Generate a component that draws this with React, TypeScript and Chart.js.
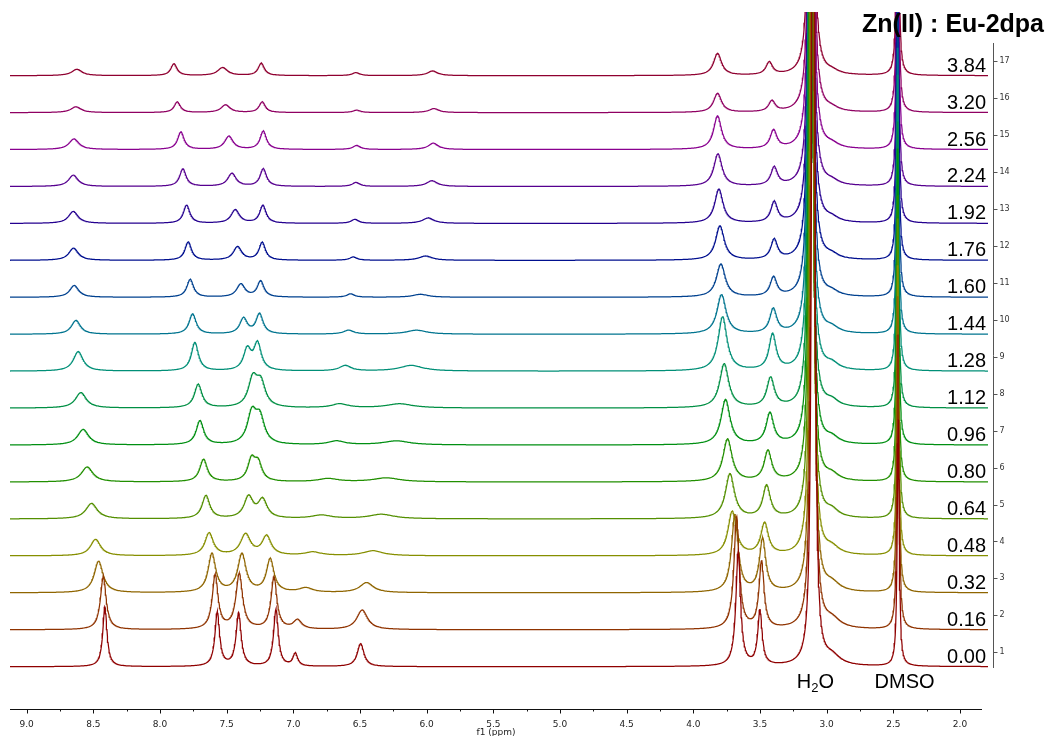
import React, { useEffect, useRef } from 'react';
import { Chart, registerables } from 'chart.js';

Chart.register(...registerables);

// ---------- data ----------
const CONC_LABELS = ['0.00', '0.16', '0.32', '0.48', '0.64', '0.80', '0.96', '1.12', '1.28', '1.44', '1.60', '1.76', '1.92', '2.24', '2.56', '3.20', '3.84'];
const TRACE_NUMBERS = [1, 2, 3, 4, 5, 6, 7, 8, 9, 10, 11, 12, 13, 14, 15, 16, 17];
const X_MAJOR_TICKS = [9.0, 8.5, 8.0, 7.5, 7.0, 6.5, 6.0, 5.5, 5.0, 4.5, 4.0, 3.5, 3.0, 2.5, 2.0];
const X_MAJOR_LABELS = ['9.0', '8.5', '8.0', '7.5', '7.0', '6.5', '6.0', '5.5', '5.0', '4.5', '4.0', '3.5', '3.0', '2.5', '2.0'];
const X_MINOR_TICKS = [8.75, 8.25, 7.75, 7.25, 6.75, 6.25, 5.75, 5.25, 4.75, 4.25, 3.75, 3.25, 2.75, 2.25];

// peak A (~8.4-8.65 ppm)
const A_PPM = [8.413, 8.425, 8.46, 8.483, 8.513, 8.546, 8.576, 8.593, 8.613, 8.63, 8.643, 8.648, 8.65, 8.65, 8.645, 8.63, 8.623];
const A_HEIGHT = [60, 53, 31.5, 16.5, 15.5, 15, 15.5, 15.5, 19.5, 13.8, 11.8, 12.2, 12, 11.3, 10.6, 5.8, 6.4];
const A_HW = [0.019, 0.026, 0.04, 0.046, 0.052, 0.052, 0.05, 0.049, 0.044, 0.041, 0.041, 0.043, 0.043, 0.043, 0.045, 0.047, 0.047];
// peak B (~7.57-7.90 ppm)
const B_PPM = [7.57, 7.586, 7.61, 7.631, 7.655, 7.673, 7.7, 7.713, 7.738, 7.755, 7.773, 7.788, 7.8, 7.828, 7.843, 7.87, 7.895];
const B_HEIGHT = [54, 54, 38.5, 22.5, 23, 22.5, 24, 23.5, 28.5, 20.2, 17.8, 18.4, 18.2, 17.5, 17.5, 10.6, 11.8];
const B_HW = [0.021, 0.026, 0.034, 0.038, 0.035, 0.034, 0.034, 0.034, 0.032, 0.032, 0.03, 0.029, 0.029, 0.029, 0.029, 0.028, 0.028];
// peak C (~7.30-7.53 ppm)
const C_PPM = [7.41, 7.405, 7.385, 7.358, 7.335, 7.313, 7.31, 7.303, 7.345, 7.373, 7.393, 7.418, 7.435, 7.46, 7.483, 7.508, 7.53];
const C_HEIGHT = [53, 55, 38, 21, 21.3, 21, 30, 27.5, 20.8, 15.5, 13, 13.5, 13.5, 13, 13.2, 7.7, 8];
const C_HW = [0.0225, 0.03, 0.0375, 0.045, 0.041, 0.034, 0.041, 0.041, 0.034, 0.034, 0.0375, 0.0375, 0.0375, 0.0375, 0.0375, 0.041, 0.045];
// peak D (~7.13-7.27 ppm)
const D_PPM = [7.13, 7.145, 7.173, 7.2, 7.23, 7.263, 7.25, 7.243, 7.268, 7.253, 7.245, 7.233, 7.228, 7.225, 7.225, 7.233, 7.24];
const D_HEIGHT = [57, 52, 33, 19, 18.3, 17, 25, 23, 26.7, 19.9, 16, 17.7, 17.8, 17.5, 18.2, 10.6, 12.3];
const D_HW = [0.021, 0.026, 0.034, 0.041, 0.041, 0.034, 0.041, 0.041, 0.034, 0.032, 0.03, 0.029, 0.029, 0.029, 0.029, 0.028, 0.028];
// peak E (~6.53-6.99 ppm)
const E_PPM = [6.985, 6.968, 6.905, 6.851, 6.788, 6.738, 6.675, 6.65, 6.61, 6.585, 6.57, 6.55, 6.538, 6.53, 6.525, 6.525, 6.53];
const E_HEIGHT = [12.5, 9, 4.5, 3.5, 3.5, 3.2, 3.8, 4, 5.5, 4, 3.4, 3.3, 4, 4, 4, 2.4, 3];
const E_HW = [0.0215, 0.0375, 0.06, 0.075, 0.09, 0.09, 0.075, 0.075, 0.0525, 0.045, 0.034, 0.034, 0.034, 0.034, 0.034, 0.034, 0.034];
// peak F (~5.95-6.50 ppm)
const F_PPM = [6.495, 6.483, 6.45, 6.4, 6.338, 6.3, 6.225, 6.2, 6.113, 6.075, 6.045, 6.008, 5.988, 5.96, 5.95, 5.945, 5.955];
const F_HEIGHT = [23, 19.5, 10, 5, 4.5, 4, 4, 4.2, 5.7, 4, 3, 4.3, 5.4, 5.7, 6.3, 4, 4.7];
const F_HW = [0.03, 0.049, 0.062, 0.09, 0.1125, 0.12, 0.12, 0.12, 0.105, 0.09, 0.0675, 0.06, 0.0525, 0.049, 0.045, 0.045, 0.045];
// peak P1 (~3.66-3.82 ppm)
const P1_PPM = [3.663, 3.675, 3.688, 3.708, 3.725, 3.743, 3.758, 3.768, 3.78, 3.788, 3.793, 3.8, 3.808, 3.815, 3.818, 3.818, 3.818];
const P1_HEIGHT = [114, 112, 77, 44, 44.5, 42.5, 45, 44, 54, 39.3, 33, 34.2, 34, 32.3, 33.3, 19, 22];
const P1_HW = [0.021, 0.024, 0.03, 0.0375, 0.041, 0.041, 0.041, 0.041, 0.04, 0.041, 0.04, 0.039, 0.0375, 0.0375, 0.036, 0.036, 0.036];
// peak P2 (~3.39-3.50 ppm)
const P2_PPM = [3.5, 3.488, 3.48, 3.465, 3.45, 3.44, 3.425, 3.42, 3.405, 3.4, 3.398, 3.393, 3.393, 3.393, 3.398, 3.41, 3.43];
const P2_HEIGHT = [54.5, 66.7, 52.4, 31.7, 32, 30, 30.8, 29.2, 35.7, 24.2, 19, 19.6, 20.3, 18, 18.3, 10.7, 12.5];
const P2_HW = [0.0195, 0.0225, 0.0285, 0.034, 0.034, 0.034, 0.034, 0.034, 0.032, 0.0315, 0.03, 0.03, 0.03, 0.03, 0.03, 0.03, 0.03];
// H2O (off scale)
const H2O_PPM = [3.1, 3.103, 3.106, 3.11, 3.113, 3.116, 3.118, 3.12, 3.121, 3.121, 3.12, 3.119, 3.118, 3.117, 3.116, 3.115, 3.115];
const H2O_HEIGHT = [1500, 1500, 1500, 1500, 1500, 1500, 1500, 1500, 1500, 1500, 1500, 1500, 1500, 1500, 1500, 1500, 1500];
const H2O_HW = [0.0097, 0.0097, 0.0097, 0.0097, 0.0097, 0.0097, 0.0097, 0.0097, 0.0097, 0.0097, 0.0097, 0.0097, 0.0097, 0.0097, 0.0097, 0.0097, 0.0097];
// H2O shoulder (~2.96 ppm)
const SH_PPM = [2.96, 2.96, 2.96, 2.96, 2.96, 2.96, 2.96, 2.96, 2.96, 2.96, 2.96, 2.96, 2.96, 2.96, 2.96, 2.96, 2.96];
const SH_HEIGHT = [9, 9, 8, 7, 7, 6, 6, 6, 6, 5, 4, 4, 4, 4, 4, 3, 3];
const SH_HW = [0.075, 0.075, 0.07, 0.065, 0.06, 0.06, 0.06, 0.06, 0.06, 0.06, 0.06, 0.06, 0.06, 0.06, 0.06, 0.06, 0.06];
// DMSO (~2.47 ppm)
const DMSO_PPM = [2.463, 2.464, 2.465, 2.466, 2.466, 2.467, 2.467, 2.467, 2.467, 2.467, 2.467, 2.467, 2.467, 2.467, 2.467, 2.467, 2.467];
const DMSO_HEIGHT = [250, 310, 300, 290, 300, 290, 300, 290, 300, 290, 300, 290, 300, 300, 300, 300, 300];
const DMSO_HW = [0.0086, 0.0086, 0.0086, 0.0086, 0.0086, 0.0086, 0.0086, 0.0086, 0.0086, 0.0086, 0.0086, 0.0086, 0.0086, 0.0086, 0.0086, 0.0086, 0.0086];

const PALETTE = ['#8F0000', '#8F3300', '#8F6500', '#868F00', '#538F00', '#218F00', '#008F12', '#008F44', '#008F77', '#00748F', '#00418F', '#000F8F', '#24008F', '#56008F', '#89008F', '#8F0062', '#8F0030'];

// ---------- plot constants ----------
const X_MIN = 1.79;
const X_MAX = 9.125;
const X_AXIS_END = 1.835;
const Y_MIN = -0.535;
const Y_MAX = 18.334;
const GRID_STEP = 0.004;
const BASELINE_SHIFT = -0.39;
const INTENSITY_PER_UNIT = 36.94;
const RIGHT_AXIS_TOP = 17.495;
const RIGHT_AXIS_BOTTOM = 0.575;
const H2O_LABEL_PPM = 3.085;
const DMSO_LABEL_PPM = 2.416;

const FAMILIES = [
  { ppm: A_PPM, h: A_HEIGHT, w: A_HW },
  { ppm: B_PPM, h: B_HEIGHT, w: B_HW },
  { ppm: C_PPM, h: C_HEIGHT, w: C_HW },
  { ppm: D_PPM, h: D_HEIGHT, w: D_HW },
  { ppm: E_PPM, h: E_HEIGHT, w: E_HW },
  { ppm: F_PPM, h: F_HEIGHT, w: F_HW },
  { ppm: P1_PPM, h: P1_HEIGHT, w: P1_HW },
  { ppm: P2_PPM, h: P2_HEIGHT, w: P2_HW },
  { ppm: H2O_PPM, h: H2O_HEIGHT, w: H2O_HW },
  { ppm: SH_PPM, h: SH_HEIGHT, w: SH_HW },
  { ppm: DMSO_PPM, h: DMSO_HEIGHT, w: DMSO_HW },
];

function buildTrace(k: number) {
  const pts: { x: number; y: number }[] = [];
  const n = Math.round((X_MAX - X_MIN) / GRID_STEP);
  for (let j = 0; j <= n; j++) {
    const x = X_MIN + j * GRID_STEP;
    let s = 0;
    for (const f of FAMILIES) {
      const d = (x - f.ppm[k]) / f.w[k];
      s += f.h[k] / (1 + d * d);
    }
    pts.push({ x, y: TRACE_NUMBERS[k] + BASELINE_SHIFT + s / INTENSITY_PER_UNIT });
  }
  return pts;
}

const overlayPlugin = {
  id: 'nmrOverlay',
  afterDraw(chart: any) {
    const { ctx, chartArea, scales } = chart;
    const xs = scales.x;
    const ys = scales.y;
    ctx.save();

    // bottom ppm axis
    const yAx = Math.round(chartArea.bottom) + 0.5;
    ctx.strokeStyle = '#111';
    ctx.lineWidth = 1;
    ctx.beginPath();
    ctx.moveTo(chartArea.left, yAx);
    ctx.lineTo(xs.getPixelForValue(X_AXIS_END), yAx);
    ctx.stroke();
    ctx.beginPath();
    X_MAJOR_TICKS.forEach((v) => {
      const px = Math.round(xs.getPixelForValue(v)) + 0.5;
      ctx.moveTo(px, yAx);
      ctx.lineTo(px, yAx + 4);
    });
    X_MINOR_TICKS.forEach((v) => {
      const px = Math.round(xs.getPixelForValue(v)) + 0.5;
      ctx.moveTo(px, yAx);
      ctx.lineTo(px, yAx + 2);
    });
    ctx.stroke();
    ctx.fillStyle = '#222';
    ctx.font = '9px "DejaVu Sans"';
    ctx.textAlign = 'center';
    ctx.textBaseline = 'middle';
    X_MAJOR_TICKS.forEach((v, i) => {
      ctx.fillText(X_MAJOR_LABELS[i], xs.getPixelForValue(v), yAx + 15);
    });
    ctx.fillText('f1 (ppm)', (chartArea.left + xs.getPixelForValue(X_AXIS_END)) / 2, yAx + 23);

    // right trace axis
    const rx = Math.round(chartArea.right) + 5.5;
    ctx.strokeStyle = '#555';
    ctx.beginPath();
    ctx.moveTo(rx, ys.getPixelForValue(RIGHT_AXIS_TOP));
    ctx.lineTo(rx, ys.getPixelForValue(RIGHT_AXIS_BOTTOM));
    TRACE_NUMBERS.forEach((t) => {
      const py = Math.round(ys.getPixelForValue(t)) + 0.5;
      ctx.moveTo(rx, py);
      ctx.lineTo(rx + 4, py);
    });
    ctx.stroke();
    ctx.fillStyle = '#333';
    ctx.font = '8px "DejaVu Sans"';
    ctx.textAlign = 'left';
    ctx.textBaseline = 'middle';
    TRACE_NUMBERS.forEach((t) => {
      ctx.fillText(String(t), rx + 6, ys.getPixelForValue(t));
    });

    // concentration labels
    ctx.fillStyle = '#000';
    ctx.font = '20px "Liberation Sans", Arial, sans-serif';
    ctx.textAlign = 'right';
    ctx.textBaseline = 'alphabetic';
    CONC_LABELS.forEach((lab, k) => {
      const py = ys.getPixelForValue(TRACE_NUMBERS[k] + BASELINE_SHIFT) - 4;
      ctx.fillText(lab, chartArea.right - 2, py);
    });

    // peak annotations
    const labY = chartArea.bottom - 21;
    ctx.textAlign = 'left';
    const big = '20px "Liberation Sans", Arial, sans-serif';
    const small = '13px "Liberation Sans", Arial, sans-serif';
    ctx.font = big;
    const wH = ctx.measureText('H').width;
    const wO = ctx.measureText('O').width;
    ctx.font = small;
    const w2 = ctx.measureText('2').width;
    let hx = xs.getPixelForValue(H2O_LABEL_PPM) - (wH + w2 + wO) / 2;
    ctx.font = big;
    ctx.fillText('H', hx, labY);
    hx += wH;
    ctx.font = small;
    ctx.fillText('2', hx, labY + 4);
    hx += w2;
    ctx.font = big;
    ctx.fillText('O', hx, labY);
    ctx.textAlign = 'center';
    ctx.fillText('DMSO', xs.getPixelForValue(DMSO_LABEL_PPM), labY);

    // title
    ctx.font = 'bold 25px "Liberation Sans", Arial, sans-serif';
    ctx.textAlign = 'right';
    ctx.fillText('Zn(II) : Eu-2dpa', chart.width - 6, 32);

    ctx.restore();
  },
};

export default function App() {
  const canvasRef = useRef<HTMLCanvasElement | null>(null);

  useEffect(() => {
    if (!canvasRef.current) return;
    const datasets = TRACE_NUMBERS.map((t, k) => ({
      label: CONC_LABELS[k],
      data: buildTrace(k),
      borderColor: PALETTE[k],
      borderWidth: 1.25,
      pointRadius: 0,
      fill: false,
      tension: 0,
    }));
    const chart = new Chart(canvasRef.current, {
      type: 'line',
      data: { datasets },
      options: {
        animation: false,
        responsive: false,
        parsing: false,
        normalized: true,
        events: [],
        layout: { padding: { left: 10, top: 12, right: 62, bottom: 27 } },
        plugins: { legend: { display: false }, tooltip: { enabled: false }, title: { display: false } },
        scales: {
          x: { type: 'linear', reverse: true, min: X_MIN, max: X_MAX, display: false },
          y: { type: 'linear', min: Y_MIN, max: Y_MAX, display: false },
        },
      },
      plugins: [overlayPlugin],
    } as any);
    return () => chart.destroy();
  }, []);

  return (
    <div style={{ position: 'fixed', left: 0, top: 0, width: 1050, height: 736, background: '#fff' }}>
      <canvas ref={canvasRef} width={1050} height={736} style={{ display: 'block' }} />
    </div>
  );
}
